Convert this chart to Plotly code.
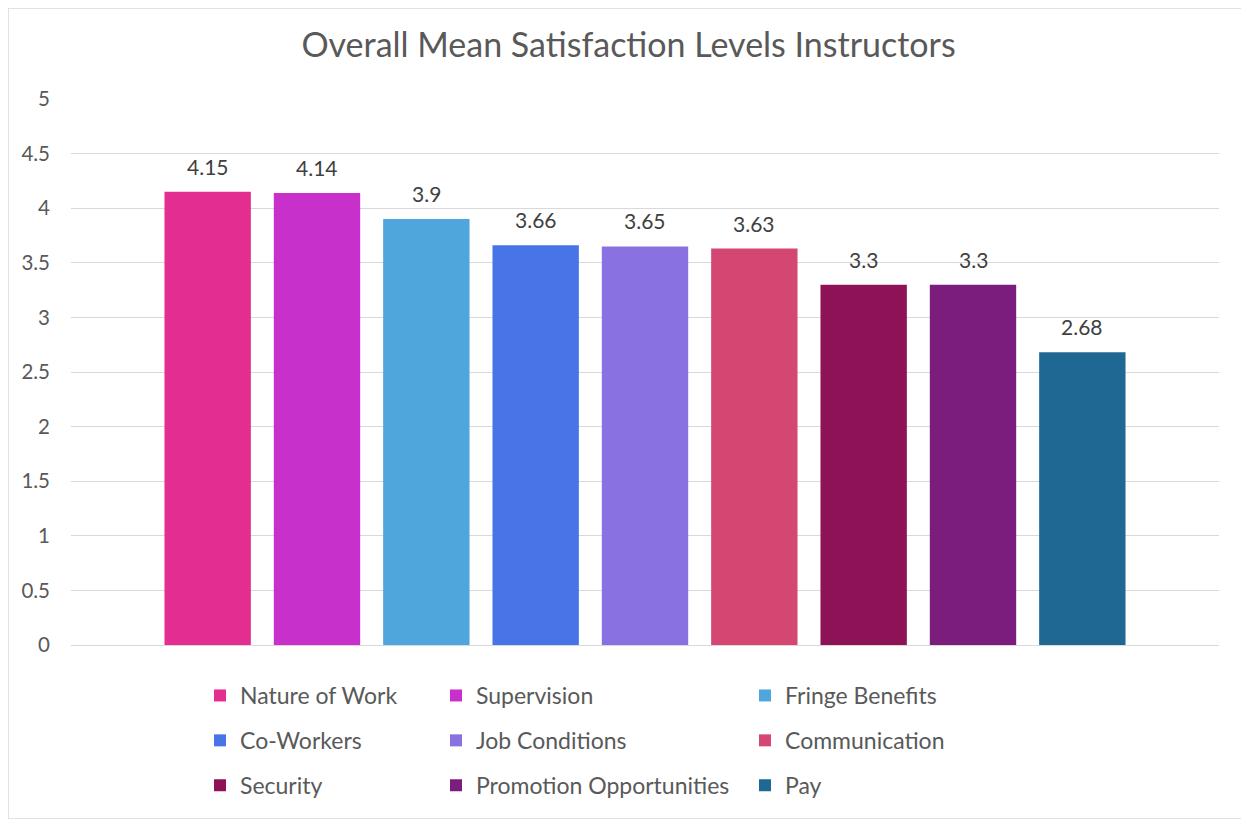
import plotly.graph_objects as go

categories = ["Nature of Work", "Supervision", "Fringe Benefits", "Co-Workers",
              "Job Conditions", "Communication", "Security",
              "Promotion Opportunities", "Pay"]
values = [4.15, 4.14, 3.9, 3.66, 3.65, 3.63, 3.3, 3.3, 2.68]
colors = ["#E32D91", "#C830CC", "#4EA6DC", "#4775E7", "#8971E1", "#D54773",
          "#8E1356", "#7A1D7C", "#1F6894"]
y_ticks = [0, 0.5, 1, 1.5, 2, 2.5, 3, 3.5, 4, 4.5, 5]
y_tick_labels = ["0", "0.5", "1", "1.5", "2", "2.5", "3", "3.5", "4", "4.5", "5"]

FONT = "Lato"
TXT = "#595959"

# page body has an 8px margin; compensate so the plot lands where the reference has it
W, H = 1241, 811
L, T, R, B = 63, 91, 30, 174
PW, PH = W - L - R, H - T - B

fig = go.Figure()
legend_for = ["legend", "legend2", "legend3"]
for i, (c, v, col) in enumerate(zip(categories, values, colors)):
    fig.add_trace(go.Bar(
        x=[c], y=[v], name=c, marker=dict(color=col, line=dict(width=0)),
        width=0.79, legend=legend_for[i % 3], legendgroup=c,
        hoverinfo="name+y",
    ))
    fig.add_annotation(x=c, y=v, text=f"{v:g}", showarrow=False,
                       yanchor="bottom", yshift=11,
                       font=dict(family=FONT, size=21, color="#404040"))

leg_common = dict(orientation="v", yanchor="top", xanchor="left",
                  font=dict(family=FONT, size=23, color=TXT),
                  bgcolor="rgba(0,0,0,0)", tracegroupgap=12,
                  itemclick=False, itemdoubleclick=False)

ly = -29 / PH
fig.update_layout(
    width=W, height=H,
    margin=dict(l=L, r=R, t=T, b=B, autoexpand=False),
    paper_bgcolor="white", plot_bgcolor="white",
    barmode="overlay",
    title=dict(text="Overall Mean Satisfaction Levels Instructors",
               x=0.5, xanchor="center", y=1 - 37 / H, yanchor="middle",
               font=dict(family=FONT, size=34, color=TXT)),
    xaxis=dict(range=[-1.25, 9.25], showticklabels=False, showgrid=False,
               zeroline=False, showline=False, fixedrange=True,
               categoryorder="array", categoryarray=categories),
    yaxis=dict(range=[0, 5], tickvals=y_ticks, ticktext=y_tick_labels,
               showgrid=True, gridcolor="#D9D9D9", gridwidth=1,
               zeroline=True, zerolinecolor="#D9D9D9", zerolinewidth=1,
               showline=False, ticks="", ticklabelstandoff=20,
               tickfont=dict(family=FONT, size=20.5, color=TXT), fixedrange=True),
    legend=dict(x=(192 - L) / PW, y=ly, **leg_common),
    legend2=dict(x=(428 - L) / PW, y=ly, **leg_common),
    legend3=dict(x=(737 - L) / PW, y=ly, **leg_common),
    shapes=[dict(type="rect", xref="paper", yref="paper",
                 x0=-L / PW, x1=(W - L) / PW,
                 y0=-B / PH, y1=(H - B) / PH,
                 line=dict(color="#D9D9D9", width=1.5), fillcolor="rgba(0,0,0,0)",
                 layer="below")],
)

fig.write_html("out.html")
